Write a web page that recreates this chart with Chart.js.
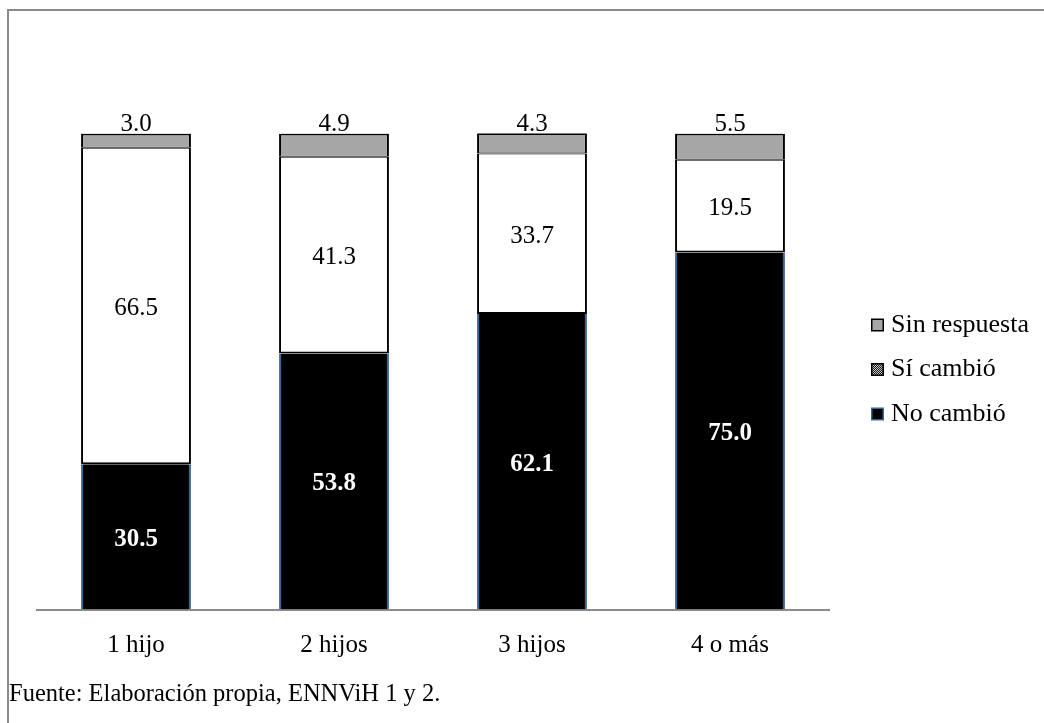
<!DOCTYPE html>
<html>
<head>
<meta charset="utf-8">
<script src="https://cdn.jsdelivr.net/npm/chart.js@4.4.1/dist/chart.umd.min.js"></script>
<style>
  html, body { margin: 0; padding: 0; background: #fff; }
  #wrap { position: relative; width: 1044px; height: 723px; overflow: hidden; }
  #frame { position: absolute; left: 7px; top: 9px; width: 1100px; height: 800px;
           border-top: 2px solid #8a8a8a; border-left: 2px solid #8a8a8a; }
  #chart { position: absolute; left: 0; top: 0; }
  #source { position: absolute; left: 9px; top: 679px; font: 24.5px "Liberation Serif", "Times New Roman", serif;
            color: #000; white-space: nowrap; }
</style>
</head>
<body>
<div id="wrap">
  <div id="frame"></div>
  <canvas id="chart" width="1044" height="723"></canvas>
  <div id="source">Fuente: Elaboración propia, ENNViH 1 y 2.</div>
</div>
<script>
// Categories (number of children) and percentage per answer
const categories   = ['1 hijo', '2 hijos', '3 hijos', '4 o más'];
const noCambio     = [30.5, 53.8, 62.1, 75.0];
const siCambio     = [66.5, 41.3, 33.7, 19.5];
const sinRespuesta = [3.0, 4.9, 4.3, 5.5];
const seriesNames  = ['No cambió', 'Sí cambió', 'Sin respuesta'];

const SERIF = '"Liberation Serif", "Times New Roman", serif';

// Small checker pattern used for the "Sí cambió" legend key
function checkerPattern(ctx) {
  const c = document.createElement('canvas');
  c.width = 2; c.height = 2;
  const p = c.getContext('2d');
  p.fillStyle = '#1c1c1c'; p.fillRect(0, 0, 2, 2);
  p.fillStyle = '#c4c4c4'; p.fillRect(0, 0, 1, 1); p.fillRect(1, 1, 1, 1);
  return ctx.createPattern(c, 'repeat');
}

// Value labels: bold white inside the dark segment, black inside the white one,
// and above the bar for the top segment
const valueLabels = {
  id: 'valueLabels',
  afterDatasetsDraw(chart) {
    const ctx = chart.ctx;
    ctx.save();
    ctx.textAlign = 'center';
    ctx.textBaseline = 'middle';
    chart.data.datasets.forEach((ds, di) => {
      const meta = chart.getDatasetMeta(di);
      meta.data.forEach((bar, i) => {
        const txt = ds.data[i].toFixed(1);
        if (di === 0) {
          ctx.font = 'bold 25px ' + SERIF;
          ctx.fillStyle = '#fff';
          ctx.fillText(txt, bar.x, (bar.y + bar.base) / 2 + 2.5);
        } else if (di === 1) {
          ctx.font = '25px ' + SERIF;
          ctx.fillStyle = '#000';
          ctx.fillText(txt, bar.x, (bar.y + bar.base) / 2 + 2.5);
        } else {
          ctx.font = '25px ' + SERIF;
          ctx.fillStyle = '#000';
          ctx.fillText(txt, bar.x, bar.y - 9);
        }
      });
    });
    ctx.restore();
  }
};

// Legend at the right, listed from the top segment down
const sideLegend = {
  id: 'sideLegend',
  afterDraw(chart) {
    const ctx = chart.ctx;
    const area = chart.chartArea;
    const x0 = area.right + 42;
    const y0 = 325, step = 44.5, size = 13;
    const keys = [
      { label: seriesNames[2], fill: '#a6a6a6', stroke: '#000' },
      { label: seriesNames[1], fill: checkerPattern(ctx), stroke: '#000' },
      { label: seriesNames[0], fill: '#000', stroke: '#3d6596' }
    ];
    ctx.save();
    ctx.font = '26px ' + SERIF;
    ctx.textBaseline = 'middle';
    ctx.textAlign = 'left';
    keys.forEach((k, i) => {
      const cy = y0 + i * step;
      ctx.fillStyle = k.stroke;
      ctx.fillRect(x0, cy - size / 2, size, size);
      ctx.fillStyle = k.fill;
      ctx.fillRect(x0 + 1.5, cy - size / 2 + 1.5, size - 3, size - 3);
      ctx.fillStyle = '#000';
      ctx.fillText(k.label, x0 + 20, cy);
    });
    ctx.restore();
  }
};

new Chart(document.getElementById('chart'), {
  type: 'bar',
  data: {
    labels: categories,
    datasets: [
      {
        label: seriesNames[0], data: noCambio,
        backgroundColor: '#000', borderColor: '#3d6596',
        borderWidth: { left: 2, right: 2, top: 0, bottom: 0 }, borderSkipped: false
      },
      {
        label: seriesNames[1], data: siCambio,
        backgroundColor: '#fff', borderColor: '#000',
        borderWidth: { left: 2, right: 2, top: 1, bottom: 2 }, borderSkipped: false
      },
      {
        label: seriesNames[2], data: sinRespuesta,
        backgroundColor: '#a6a6a6', borderColor: '#000',
        borderWidth: { left: 2, right: 2, top: 2, bottom: 1 }, borderSkipped: false
      }
    ]
  },
  options: {
    responsive: false,
    devicePixelRatio: 1,
    animation: false,
    layout: { padding: { left: 37, right: 215, top: 133.5, bottom: 42.5 } },
    datasets: { bar: { barPercentage: 0.555, categoryPercentage: 1 } },
    plugins: { legend: { display: false }, tooltip: { enabled: false } },
    scales: {
      x: {
        stacked: true,
        grid: { display: false, drawTicks: false },
        border: { display: true, color: '#8c8c8c', width: 2 },
        ticks: { color: '#000', padding: 20.5, font: { family: SERIF, size: 25, lineHeight: 1.2 } }
      },
      y: {
        stacked: true, display: false, min: 0, max: 100
      }
    }
  },
  plugins: [valueLabels, sideLegend]
});
</script>
</body>
</html>
